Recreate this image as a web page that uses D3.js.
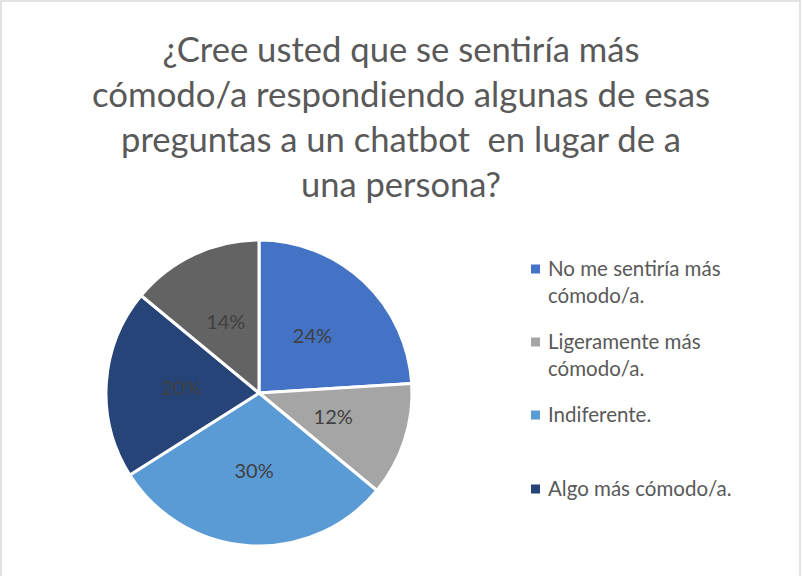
<!DOCTYPE html>
<html><head><meta charset="utf-8">
<script src="https://cdn.jsdelivr.net/npm/d3@7/dist/d3.min.js"></script>
<style>body{margin:0;background:#fff}svg{display:block}</style>
</head><body>
<svg id="c" width="802" height="576"></svg>
<script>
const titleLines = ["¿Cree usted que se sentiría más", "cómodo/a respondiendo algunas de esas", "preguntas a un chatbot  en lugar de a", "una persona?"];
const categories = ["No me sentiría más cómodo/a.", "Ligeramente más cómodo/a.", "Indiferente.", "Algo más cómodo/a.", "Mucho más cómodo/a."];
const legendLines = [["No me sentiría más", "cómodo/a."], ["Ligeramente más", "cómodo/a."], ["Indiferente."], ["Algo más cómodo/a."]];
const values = [24, 12, 30, 20, 14];
const colors = ["#4472C4", "#A5A5A5", "#5B9BD5", "#264478", "#636363"];

const svg = d3.select("#c");
const font = "Lato, 'Open Sans', sans-serif";
svg.append("rect").attr("x", 1).attr("y", 1).attr("width", 799).attr("height", 590)
  .attr("fill", "#fff").attr("stroke", "#D9D9D9").attr("stroke-width", 1.5);

const titleW = [477, 618, 560, 200];
const tg = svg.append("g");
titleLines.forEach((t, i) => {
  tg.append("text").attr("x", 401).attr("y", 62 + i * 45).attr("text-anchor", "middle")
    .attr("font-family", font).attr("font-size", 35).attr("fill", "#595959")
    .attr("textLength", titleW[i]).attr("lengthAdjust", "spacingAndGlyphs")
    .style("white-space", "pre").text(t);
});

const cx = 259, cy = 393, R = 153;
const pie = d3.pie().sort(null).value(d => d);
const arc = d3.arc().innerRadius(0).outerRadius(R);
const g = svg.append("g").attr("transform", `translate(${cx},${cy})`);
const arcs = pie(values);
g.selectAll("path").data(arcs).join("path")
  .attr("d", arc).attr("fill", (d, i) => colors[i])
  .attr("stroke", "#fff").attr("stroke-width", 3).attr("stroke-linejoin", "round");
const la = d3.arc().innerRadius(0).outerRadius(R * 1.02);
g.selectAll("text").data(arcs).join("text")
  .attr("transform", d => `translate(${la.centroid(d)})`)
  .attr("text-anchor", "middle").attr("dy", "0.35em")
  .attr("font-family", font).attr("font-size", 20).attr("fill", "#404040")
  .text(d => d.data + "%");

const lg = svg.append("g");
const itemY = [269, 342, 415, 489];
legendLines.forEach((lines, i) => {
  lg.append("rect").attr("x", 531).attr("y", itemY[i] - 4.5).attr("width", 9).attr("height", 9)
    .attr("fill", colors[i]);
  lines.forEach((l, j) => {
    lg.append("text").attr("x", 548).attr("y", itemY[i] + j * 27).attr("dy", "0.36em")
      .attr("font-family", font).attr("font-size", 20.5).attr("fill", "#595959").text(l);
  });
});
</script>
</body></html>
